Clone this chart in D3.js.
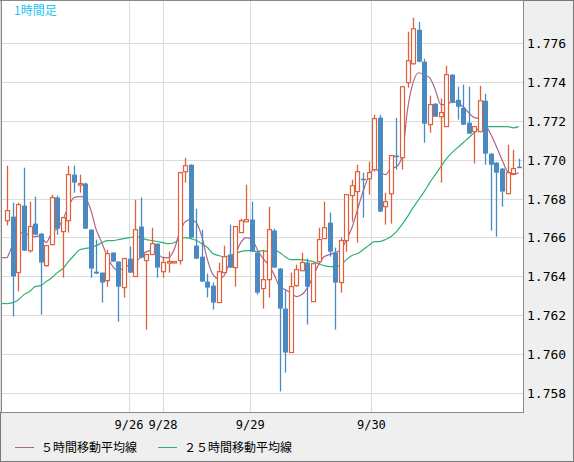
<!DOCTYPE html>
<html><head><meta charset="utf-8">
<script src="https://cdn.jsdelivr.net/npm/d3@7"></script>
<style>body{margin:0;background:#efefef}svg{display:block}</style>
</head><body><svg id="c" width="574" height="462"></svg>
<script>
const opens=[1.76686,1.76707,1.76419,1.76764,1.76532,1.76671,1.7662,1.76455,1.76563,1.76805,1.7663,1.76686,1.76923,1.76874,1.76877,1.7664,1.76424,1.76419,1.76378,1.76522,1.76476,1.76342,1.76491,1.76399,1.76656,1.76481,1.76512,1.76568,1.76424,1.76473,1.76473,1.76481,1.76938,1.76974,1.76558,1.76501,1.76373,1.76352,1.76265,1.76419,1.76512,1.76445,1.76625,1.76681,1.76692,1.76522,1.76337,1.76383,1.76635,1.7644,1.76234,1.76008,1.76352,1.76429,1.76471,1.7627,1.76476,1.76594,1.76676,1.76522,1.76368,1.76584,1.76815,1.76836,1.76902,1.76902,1.76949,1.77216,1.76758,1.76825,1.77021,1.7701,1.77396,1.77493,1.77668,1.77504,1.7718,1.77288,1.77221,1.7717,1.77437,1.77308,1.77267,1.7719,1.77144,1.77144,1.77303,1.77031,1.76985,1.76954,1.76825,1.76928,1.76964];
const highs=[1.76969,1.76779,1.76779,1.76959,1.76784,1.7681,1.76622,1.7656,1.7682,1.76815,1.76705,1.76969,1.76969,1.76923,1.76882,1.76642,1.76589,1.7642,1.76537,1.76524,1.76478,1.76496,1.76553,1.76794,1.76805,1.76514,1.7665,1.7657,1.76501,1.76527,1.76478,1.76938,1.7701,1.76976,1.76748,1.7664,1.76414,1.76368,1.76471,1.76558,1.76666,1.76658,1.76697,1.76871,1.76784,1.76524,1.76537,1.76758,1.76645,1.76442,1.76332,1.76419,1.7646,1.76522,1.76491,1.76467,1.7665,1.76784,1.76728,1.76548,1.76599,1.76822,1.76897,1.76974,1.76933,1.7699,1.77231,1.77231,1.7683,1.77023,1.77216,1.77378,1.77658,1.7773,1.77709,1.77519,1.77329,1.7729,1.77314,1.77483,1.7744,1.77375,1.77386,1.77375,1.77172,1.7738,1.77339,1.77033,1.76987,1.76956,1.77077,1.77051,1.77005];
const lows=[1.76661,1.76193,1.76322,1.7653,1.76522,1.76612,1.76203,1.7645,1.7656,1.76614,1.76393,1.76625,1.7683,1.7683,1.76643,1.76393,1.76412,1.76265,1.76347,1.76474,1.76167,1.76291,1.76417,1.76397,1.76494,1.76126,1.7651,1.76393,1.76393,1.76419,1.7647,1.7646,1.76882,1.76597,1.76489,1.76371,1.76291,1.76229,1.76263,1.76417,1.76443,1.76347,1.76623,1.76679,1.76525,1.76306,1.76234,1.76291,1.76443,1.75808,1.75905,1.76006,1.76347,1.76427,1.76152,1.76268,1.76474,1.76592,1.76501,1.76126,1.76316,1.76527,1.76681,1.76573,1.76702,1.7682,1.76938,1.7673,1.76666,1.76671,1.76949,1.76949,1.7737,1.7749,1.775,1.77087,1.77139,1.7722,1.76882,1.77168,1.7729,1.77206,1.77178,1.77132,1.7698,1.77142,1.76974,1.76635,1.76604,1.76758,1.76823,1.76926,1.76957];
const closes=[1.76738,1.76399,1.76769,1.76532,1.76656,1.76614,1.76471,1.76558,1.76805,1.76645,1.76702,1.76923,1.76882,1.76877,1.76645,1.7644,1.76414,1.76368,1.76517,1.76476,1.76347,1.76491,1.76419,1.7664,1.76496,1.76512,1.76568,1.76445,1.76471,1.76476,1.76476,1.76933,1.76969,1.76599,1.76491,1.76373,1.76342,1.76265,1.76424,1.76501,1.76445,1.76656,1.76686,1.76692,1.76527,1.76316,1.76383,1.7664,1.76445,1.76234,1.76008,1.76347,1.76435,1.76471,1.76347,1.76465,1.76589,1.7665,1.76527,1.76368,1.76584,1.7682,1.76866,1.76938,1.76897,1.76933,1.77211,1.76733,1.76784,1.77021,1.77013,1.77375,1.77509,1.77673,1.77504,1.77185,1.77283,1.77221,1.77242,1.77437,1.77293,1.77272,1.7718,1.77134,1.7717,1.77303,1.77031,1.76974,1.76933,1.76836,1.76933,1.76954,1.76959];
const ma5=[1.76496,1.76563,1.76614,1.76625,1.76609,1.76604,1.76609,1.76573,1.76625,1.76645,1.76692,1.76758,1.76805,1.7681,1.76805,1.76743,1.7664,1.76573,1.76501,1.7645,1.76429,1.76445,1.7646,1.76476,1.76496,1.76527,1.76532,1.76517,1.76496,1.76496,1.76537,1.76625,1.76681,1.76692,1.76676,1.76604,1.76486,1.76409,1.76388,1.76404,1.76471,1.76512,1.76573,1.76599,1.76589,1.76537,1.76491,1.7646,1.76409,1.76347,1.76332,1.76316,1.76296,1.76306,1.76342,1.76399,1.7646,1.76501,1.76512,1.76522,1.76537,1.76589,1.7665,1.76743,1.76836,1.76913,1.76954,1.76938,1.76923,1.76954,1.76964,1.77015,1.77257,1.77396,1.77447,1.77437,1.77421,1.7736,1.77283,1.77283,1.77298,1.77293,1.77272,1.77242,1.77216,1.77211,1.7718,1.77129,1.77067,1.77,1.76938,1.76923,1.76933];
const ma25=[1.7626,1.76265,1.7628,1.76306,1.76322,1.76347,1.76352,1.76373,1.76393,1.76419,1.7644,1.76476,1.76507,1.76537,1.76543,1.76548,1.76558,1.76573,1.76584,1.76584,1.76589,1.76594,1.76599,1.76604,1.76599,1.76589,1.76584,1.76579,1.76573,1.76568,1.76573,1.76589,1.76599,1.76594,1.76584,1.76568,1.76548,1.76517,1.76507,1.76501,1.76507,1.76517,1.76527,1.76532,1.76532,1.76527,1.76532,1.76527,1.76537,1.76522,1.76501,1.76486,1.76486,1.76486,1.76481,1.76476,1.76465,1.76455,1.7645,1.7645,1.7646,1.76486,1.76507,1.76517,1.76537,1.76558,1.76579,1.76579,1.76589,1.76604,1.7663,1.76666,1.76707,1.76753,1.76794,1.76836,1.76882,1.76923,1.76964,1.77005,1.77036,1.77062,1.77087,1.77113,1.77139,1.77164,1.7717,1.7717,1.7717,1.7717,1.7717,1.77164,1.7717];
const yTicks=[1.758,1.760,1.762,1.764,1.766,1.768,1.770,1.772,1.774,1.776];
const dateIdx=[-1.3,21.9,28.0,43.7,65.5];
const dateLabels=["","9/26","9/28","9/29","9/30"];
const legendLabels=["５時間移動平均線","２５時間移動平均線"];
const title="1時間足";

const svg=d3.select("#c");
const W=574,H=462,L=2,R=523,T=1,B=412;
const x=d3.scaleLinear().domain([0,92]).range([7.3,518.7]);
const y=d3.scaleLinear().domain([1.758,1.776]).range([393,43]);
const up="#e0603a",dn="#4a8ac2",c5="#b0628e",c25="#2fb070";
const font="'DejaVu Sans Mono', monospace";

svg.append("rect").attr("x",0).attr("y",0).attr("width",W).attr("height",H).attr("fill","#efefef");
svg.append("rect").attr("x",0.5).attr("y",0.5).attr("width",W-1).attr("height",H-1).attr("fill","none").attr("stroke","#777");
svg.append("rect").attr("x",L).attr("y",T).attr("width",R-L).attr("height",B-T).attr("fill","#fff");
const g=svg.append("g");
g.selectAll(".hg").data(yTicks).join("line").attr("x1",L).attr("x2",R).attr("y1",d=>Math.round(y(d))+0.5).attr("y2",d=>Math.round(y(d))+0.5).attr("stroke","#dcdcdc");
g.selectAll(".vg").data(dateIdx).join("line").attr("x1",d=>Math.round(x(d))+0.5).attr("x2",d=>Math.round(x(d))+0.5).attr("y1",T).attr("y2",B).attr("stroke","#dcdcdc");

const idx=d3.range(opens.length);
const line=d3.line().x((d,i)=>x(i)).y(d=>y(d)).curve(d3.curveMonotoneX);
function drawMA(arr,col){
  svg.append("line").attr("x1",L).attr("x2",x(0)).attr("y1",y(arr[0])).attr("y2",y(arr[0])).attr("stroke",col).attr("stroke-width",1.2);
  svg.append("path").attr("d",line(arr)).attr("fill","none").attr("stroke",col).attr("stroke-width",1.2);
}
drawMA(ma25,c25);
drawMA(ma5,c5);

const cg=svg.append("g");
idx.forEach(i=>{
  const isUp=closes[i]>=opens[i];
  const col=isUp?up:dn;
  const cx=Math.round(x(i))+0.5;
  cg.append("line").attr("x1",cx).attr("x2",cx).attr("y1",y(highs[i])).attr("y2",y(lows[i])).attr("stroke",col).attr("stroke-width",1.3);
  const top=y(Math.max(opens[i],closes[i])),bot=y(Math.min(opens[i],closes[i]));
  const h=Math.max(1.5,bot-top);
  if(isUp) cg.append("rect").attr("x",cx-2).attr("y",top).attr("width",4).attr("height",h).attr("fill","#fff").attr("stroke",col).attr("stroke-width",1.2);
  else cg.append("rect").attr("x",cx-2.5).attr("y",top).attr("width",5).attr("height",h).attr("fill",col);
});

svg.append("rect").attr("x",L-0.5).attr("y",T-0.5).attr("width",R-L+1).attr("height",B-T+1).attr("fill","none").attr("stroke","#888");

svg.selectAll(".yl").data(yTicks).join("text").attr("x",527).attr("y",d=>y(d)+5).text(d=>d.toFixed(3))
  .attr("font-family",font).attr("font-size",13).attr("fill","#000");
svg.selectAll(".xl").data(dateIdx).join("text").attr("x",d=>x(d)).attr("y",429).attr("text-anchor","middle").text((d,i)=>dateLabels[i])
  .attr("font-family",font).attr("font-size",12).attr("fill","#000");
svg.append("text").attr("x",14).attr("y",15).text(title).attr("font-family","'Noto Sans CJK JP', sans-serif").attr("font-size",12).attr("fill","#22c4ee");

const lg=[{x:15,c:c5,t:legendLabels[0]},{x:158,c:c25,t:legendLabels[1]}];
lg.forEach(d=>{
  svg.append("line").attr("x1",d.x).attr("x2",d.x+19).attr("y1",447.5).attr("y2",447.5).attr("stroke",d.c);
  svg.append("text").attr("x",d.x+26).attr("y",452).text(d.t).attr("font-family","'Noto Sans CJK JP', sans-serif").attr("font-size",12).attr("fill","#000");
});
</script></body></html>
